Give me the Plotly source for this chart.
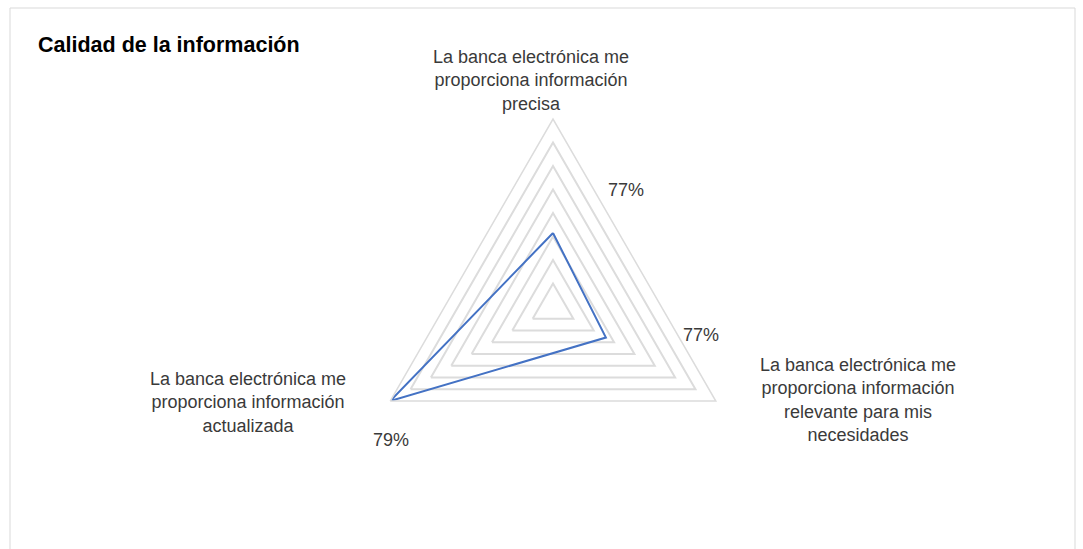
import plotly.graph_objects as go

# Survey items (radar axes, clockwise from the top)
categories = [
    "La banca electrónica me proporciona información precisa",
    "La banca electrónica me proporciona información relevante para mis necesidades",
    "La banca electrónica me proporciona información actualizada",
]
# Wrapped versions used for the axis captions
category_lines = [
    ["La banca electrónica me", "proporciona información", "precisa"],
    ["La banca electrónica me", "proporciona información", "relevante para mis", "necesidades"],
    ["La banca electrónica me", "proporciona información", "actualizada"],
]
values = [0.7706, 0.7684, 0.79]

# Radial scale
r_min, r_max, r_step = 0.758, 0.79, 0.004

W, H = 1083, 549
cx, cy, R = 553, 307, 188  # polar centre and radius in pixels

def px(x):
    return x / W

def py(y):
    return 1 - y / H

FONT = "Liberation Sans, Arial, sans-serif"
GRID = "#dcdcdc"
TEXT = "#3a3a3a"

fig = go.Figure()
fig.add_trace(go.Scatterpolar(
    r=values + values[:1],
    theta=categories + categories[:1],
    mode="lines",
    line=dict(color="#4472C4", width=2),
    hoverinfo="skip",
    showlegend=False,
))

# Axis captions
caption_pos = [
    (531, 80),
    (858, 400),
    (248, 402),
]
annotations = []
for lines, (x, y) in zip(category_lines, caption_pos):
    annotations.append(dict(
        x=px(x), y=py(y), xref="paper", yref="paper",
        text="<br>".join(lines), showarrow=False, align="center",
        xanchor="center", yanchor="middle",
        font=dict(family=FONT, size=18, color=TEXT),
    ))

# Value labels
value_pos = [(626, 190), (701, 335), (391, 440)]
for v, (x, y) in zip(values, value_pos):
    annotations.append(dict(
        x=px(x), y=py(y), xref="paper", yref="paper",
        text=f"{v:.0%}", showarrow=False,
        xanchor="center", yanchor="middle",
        font=dict(family=FONT, size=18, color=TEXT),
    ))

# Chart title
annotations.append(dict(
    x=px(36), y=py(45), xref="paper", yref="paper",
    text="<b>Calidad de la información</b>", showarrow=False,
    xanchor="left", yanchor="middle",
    font=dict(family=FONT, size=21.5, color="#000000"),
))

fig.update_layout(
    width=W, height=H,
    margin=dict(l=0, r=0, t=0, b=0),
    paper_bgcolor="white",
    plot_bgcolor="white",
    polar=dict(
        domain=dict(x=[px(cx - R), px(cx + R)], y=[py(cy + R), py(cy - R)]),
        gridshape="linear",
        bgcolor="white",
        radialaxis=dict(
            range=[r_min, r_max], tick0=r_min, dtick=r_step,
            showticklabels=False, ticks="", showline=False,
            gridcolor=GRID, gridwidth=1.5,
        ),
        angularaxis=dict(
            rotation=90, direction="clockwise",
            showticklabels=False, ticks="", showgrid=False,
            showline=True, linecolor=GRID, linewidth=1.5,
        ),
    ),
    annotations=annotations,
    shapes=[dict(
        type="rect", xref="paper", yref="paper",
        x0=px(10), x1=px(1075), y0=py(560), y1=py(8),
        line=dict(color="#d9d9d9", width=1),
    )],
)

fig.write_html("out.html")
